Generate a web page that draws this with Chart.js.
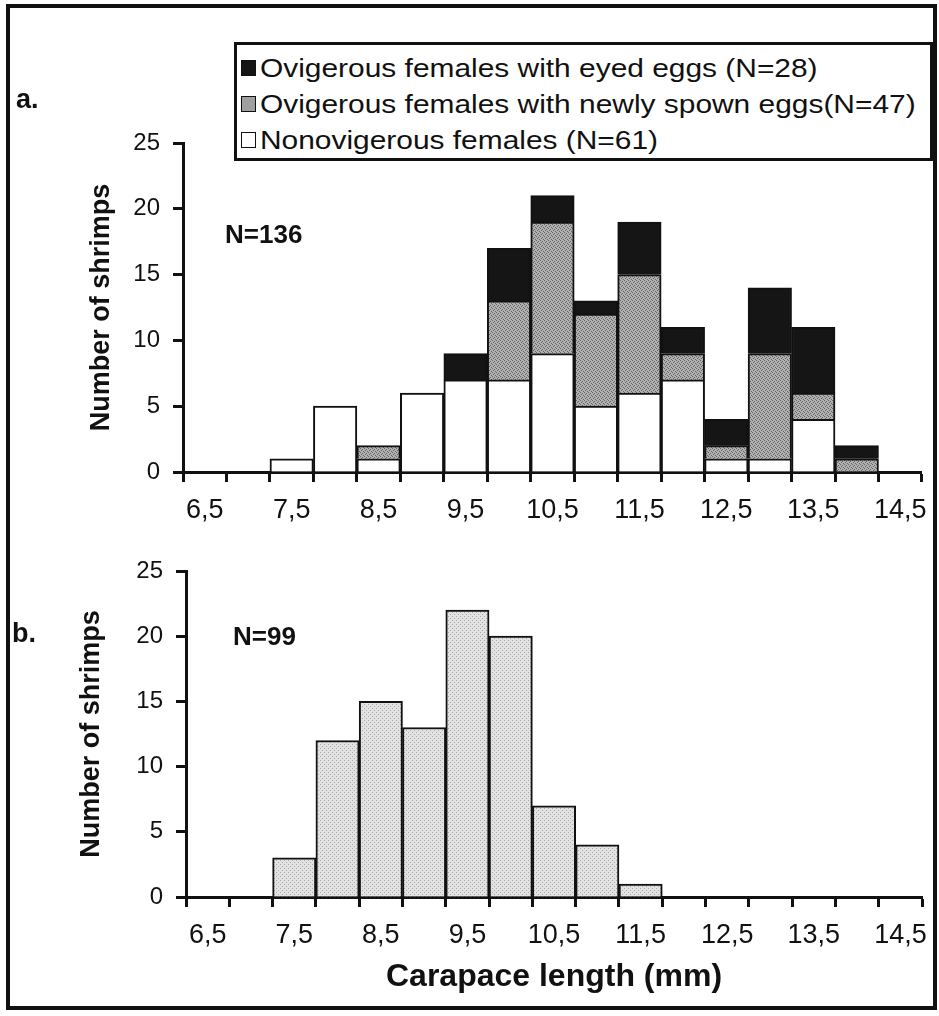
<!DOCTYPE html>
<html>
<head>
<meta charset="utf-8">
<script src="https://cdn.jsdelivr.net/npm/chart.js@4.4.1/dist/chart.umd.min.js"></script>
<style>
html,body{margin:0;padding:0;background:#fff;}
#wrap{position:relative;width:939px;height:1016px;overflow:hidden;background:#fff;font-family:'Liberation Sans',Arial,sans-serif;color:#111;}
.frame{position:absolute;left:6px;top:4px;width:931px;height:1006px;border:4px solid #111;box-sizing:border-box;}
canvas{position:absolute;left:0;}
#ca{top:0;}
#cb{top:540px;}
.txt{position:absolute;font-weight:bold;white-space:nowrap;line-height:1;z-index:3;}
.legend{position:absolute;left:234px;top:42px;width:699px;height:119px;border:3px solid #111;box-sizing:border-box;background:#fff;z-index:4;}
.row{position:absolute;left:4px;height:30px;display:flex;align-items:center;font-size:26px;white-space:nowrap;}
.row span{display:inline-block;transform:scaleX(1.15);transform-origin:0 50%;}
.mk{width:15px;height:16px;border:1.5px solid #111;box-sizing:border-box;margin-right:4px;flex:none;}
</style>
</head>
<body>
<div id="wrap">
  <div class="frame"></div>
  <canvas id="ca" width="939" height="540"></canvas>
  <canvas id="cb" width="939" height="470"></canvas>
  <div class="legend" id="legend"></div>
  <div class="txt" style="left:16px;top:86px;font-size:27px;">a.</div>
  <div class="txt" style="left:12px;top:620px;font-size:27px;">b.</div>
  <div class="txt" style="left:225px;top:221px;font-size:26px;">N=136</div>
  <div class="txt" style="left:233px;top:623px;font-size:26px;">N=99</div>
</div>
<script>
// ---- data ----
const categories = ['6,5','7','7,5','8','8,5','9','9,5','10','10,5','11','11,5','12','12,5','13','13,5','14','14,5'];
const seriesNames = ['Ovigerous females with eyed eggs (N=28)','Ovigerous females with newly spown eggs(N=47)','Nonovigerous females (N=61)'];
const nonovigerous = [0,0,1,5,1,6,7,7,9,5,6,7,1,1,4,0,0];
const newlySpawned = [0,0,0,0,1,0,0,6,10,7,9,2,1,8,2,1,0];
const eyedEggs     = [0,0,0,0,0,0,2,4,2,1,4,2,2,5,5,1,0];
const panelB       = [0,0,3,12,15,13,22,20,7,4,1,0,0,0,0,0,0];
const yTicks = [0,5,10,15,20,25];

// ---- textures ----
function stipple(base, dot, mask) {
  const c = document.createElement('canvas'); c.width = 4; c.height = 4;
  const g = c.getContext('2d');
  g.fillStyle = base; g.fillRect(0,0,4,4);
  g.fillStyle = dot;
  for (let y=0;y<4;y++) for (let x=0;x<4;x++) if (mask[y][x]) g.fillRect(x,y,1,1);
  return g.createPattern(c,'repeat');
}
const midGray = stipple('#b0b0b0','#666666',[[1,0,0,0],[0,0,1,0],[0,1,0,0],[0,0,0,1]]);
const lightGray = stipple('#e2e2e2','#a8a8a8',[[1,0,0,0],[0,0,0,0],[0,0,1,0],[0,0,0,0]]);
const colors = ['#151515', midGray, '#ffffff'];
const legendFill = ['#151515', '#a0a0a0', '#ffffff'];

// legend
const lg = document.getElementById('legend');
seriesNames.forEach((n,i)=>{
  const r = document.createElement('div'); r.className='row'; r.style.top = (8 + i*36) + 'px';
  const m = document.createElement('div'); m.className='mk'; m.style.background = legendFill[i];
  const t = document.createElement('span'); t.textContent = n;
  r.appendChild(m); r.appendChild(t); lg.appendChild(r);
});

const FONT = "'Liberation Sans', Arial, sans-serif";
Chart.defaults.font.family = FONT;
Chart.defaults.color = '#111';

function scales(yW, xH, yTitlePad, xTitle) {
  return {
    x: {
      stacked: true, offset: true,
      grid: {offset: true, drawOnChartArea: false, drawTicks: true, tickLength: 10, tickWidth: 3, tickColor: '#111'},
      border: {display: true, color: '#111', width: 3},
      ticks: {autoSkip: false, maxRotation: 0, minRotation: 0, padding: 12, font: {size: 27}, color: '#111',
              callback: (v, i) => (i % 2 === 0 ? categories[i] : '')},
      title: xTitle ? {display: true, text: xTitle, font: {size: 32, weight: 'bold'}, color: '#111', padding: {top: 0, bottom: 8}} : {display: false},
      afterFit: s => { s.height = xH; }
    },
    y: {
      stacked: true, min: 0, max: 25,
      afterBuildTicks: s => { s.ticks = yTicks.map(v => ({value: v})); },
      grid: {drawOnChartArea: false, drawTicks: true, tickLength: 10, tickWidth: 3, tickColor: '#111'},
      border: {display: true, color: '#111', width: 3},
      ticks: {padding: 13, font: {size: 24}, color: '#111'},
      title: {display: true, text: 'Number of shrimps', font: {size: 27, weight: 'bold'}, color: '#111', padding: {top: yTitlePad, bottom: 0}},
      afterFit: s => { s.width = yW; }
    }
  };
}

const common = {
  responsive: false, animation: false, devicePixelRatio: 1,
  plugins: {legend: {display: false}, tooltip: {enabled: false}}
};

new Chart(document.getElementById('ca'), {
  type: 'bar',
  data: {
    labels: categories,
    datasets: [
      {label: seriesNames[2], data: nonovigerous, backgroundColor: colors[2]},
      {label: seriesNames[1], data: newlySpawned, backgroundColor: colors[1]},
      {label: seriesNames[0], data: eyedEggs, backgroundColor: colors[0]}
    ].map(d => Object.assign(d, {borderColor: '#111', borderWidth: 2, barPercentage: 1, categoryPercentage: 1}))
  },
  options: Object.assign({}, common, {
    layout: {padding: {top: 143, left: 0, right: 17, bottom: 8}},
    scales: scales(183, 60, 85, null)
  })
});

new Chart(document.getElementById('cb'), {
  type: 'bar',
  data: {
    labels: categories,
    datasets: [
      {label: 'N=99', data: panelB, backgroundColor: lightGray, borderColor: '#111', borderWidth: 2, barPercentage: 1, categoryPercentage: 1}
    ]
  },
  options: Object.assign({}, common, {
    layout: {padding: {top: 31, left: 0, right: 11, bottom: 6}},
    scales: scales(186, 107, 75, 'Carapace length (mm)')
  })
});
</script>
</body>
</html>
